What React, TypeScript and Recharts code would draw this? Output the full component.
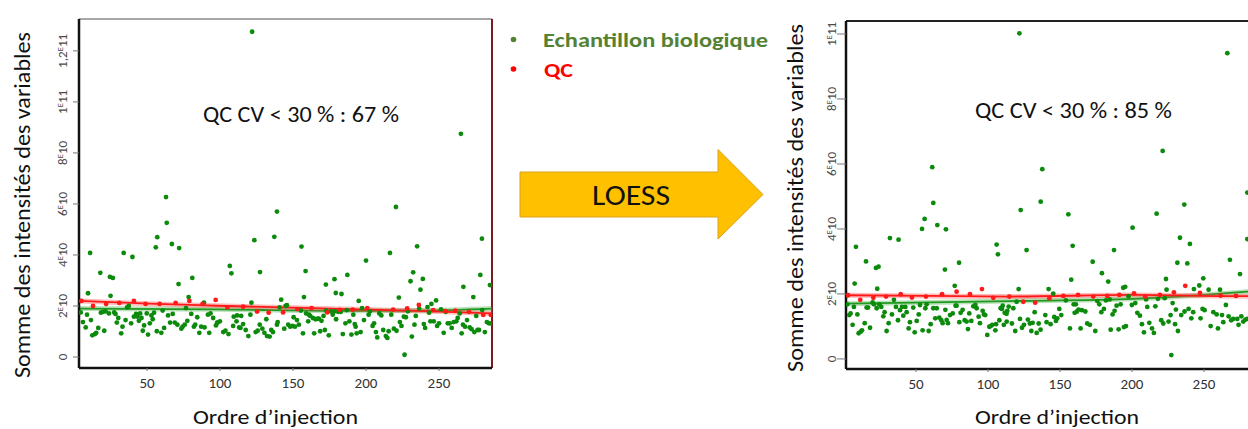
import { ComposedChart, Scatter, Line, XAxis, YAxis, ReferenceLine } from 'recharts';

const FONT = 'Carlito, Calibri, Lato, "Open Sans", sans-serif';

const xTicks = [50, 100, 150, 200, 250];
const leftYTicks = [0, 2, 4, 6, 8, 10, 12];
const leftYLabels = ['0', '2E10', '4E10', '6E10', '8E10', '1E11', '1,2E11'];
const rightYTicks = [0, 2, 4, 6, 8, 10];
const rightYLabels = ['0', '2E10', '4E10', '6E10', '8E10', '1E11'];

// [injection order, summed intensity in 1E10 units] - before correction
const leftBio: [number, number][] = [
  [122, 12.75], [265, 8.75], [63, 6.27], [63.5, 5.26], [139, 5.7], [220.5, 5.88],
  [57, 4.7], [56, 4.3], [67, 4.43], [72, 4.27], [11, 4.08], [34, 4.08], [40, 3.92], [18, 3.3],
  [24.6, 3.14], [26.6, 3.1], [81, 3.1], [71.6, 2.86], [9.6, 2.5], [25, 2.4], [78.5, 2.35],
  [137.2, 4.71], [123.5, 4.58], [155.8, 4.33], [106.7, 3.57], [107.8, 3.28], [127.4, 3.33],
  [158.6, 3.37], [172.5, 2.84], [178.4, 3.05], [187.2, 3.22], [179.3, 2.51], [183.2, 2.47],
  [157.5, 2.35], [141.9, 2.25], [121.5, 2.13],
  [279.4, 4.64], [235, 4.34], [200, 3.78], [216.4, 4.08], [278.3, 3.22], [232.3, 3.32],
  [230.5, 2.97], [238.9, 3.06], [237.3, 2.64], [266.7, 2.75], [273.5, 2.35], [284.9, 2.82],
  [222.5, 2.33], [248, 2.22], [244.8, 2.08], [242.1, 1.96], [195, 2.2], [226.4, 0.09],
  [4.6, 1.75], [6.1, 1.37], [8, 1.16], [8.9, 1.66], [11.6, 1.45], [12.5, 0.85], [14.3, 0.9],
  [15.2, 0.95], [16.6, 1.14], [18.4, 1.74], [19.8, 1.77], [20.7, 1.03], [21.6, 1.79], [23.9, 1.71],
  [27.5, 1.75], [28.4, 1.69], [29.3, 1.35], [30.3, 1.53], [32.3, 0.93], [33.2, 1.19], [35.3, 1.45],
  [36.4, 1.95], [37.5, 2.0], [39.1, 1.32], [41, 1.58], [42.5, 1.69], [43.5, 1.58], [44.4, 1.42],
  [45.3, 1.71], [46.2, 1.53], [47.1, 1.03], [48, 1.24], [49.8, 1.71], [50.7, 0.88], [51.9, 1.32],
  [53, 1.63], [53.9, 1.48], [54.8, 1.74], [56.7, 1.01], [59.8, 0.95], [60.7, 1.82], [61.7, 1.14],
  [64.4, 1.63], [65.8, 1.35], [67.6, 1.69], [69, 1.35], [70.8, 1.27], [73.5, 1.11], [74.4, 1.19],
  [75.8, 1.27], [76.7, 1.92], [77.6, 1.42], [80.3, 1.69], [82.1, 1.19], [83, 1.27], [84.4, 1.56],
  [85.8, 0.95], [87.1, 1.19], [89, 2.13], [89.4, 1.16], [91.7, 1.66], [92.6, 0.95], [93.5, 1.71],
  [95.3, 1.53], [97.2, 1.24], [98.1, 1.35],
  [98.3, 1.35], [99.9, 1.4], [102.2, 0.98], [103.7, 1.03], [105.8, 0.9], [109, 1.22], [109.4, 1.58],
  [111.3, 1.4], [111.7, 1.63], [113.1, 1.16], [114, 1.14], [114.5, 1.61], [115.8, 1.29], [117.6, 1.06],
  [119.4, 0.82], [120.8, 1.66], [124.4, 0.98], [125.8, 1.03], [127.2, 1.27], [129, 1.11], [130.4, 0.95],
  [131.7, 1.48], [132.2, 0.82], [134, 0.8], [135.1, 1.06], [136.3, 0.98], [139, 1.27], [139.5, 1.37],
  [140.8, 1.95], [144, 1.11], [144.9, 2.0], [145.8, 2.03], [146.7, 1.27], [148.1, 1.19], [149.5, 1.22],
  [150.4, 1.56], [151.3, 1.19], [152.7, 1.45], [154, 1.27], [155.4, 1.82], [156.8, 0.93], [159, 1.71],
  [160.4, 1.4], [160.9, 1.66], [161.8, 1.61], [163.6, 1.53], [164.5, 0.93], [165.4, 1.48], [166.8, 1.5],
  [167.7, 1.5], [168.6, 1.01], [169.5, 1.42], [170.9, 1.61], [171.8, 1.06], [172.7, 1.82], [174.5, 0.85],
  [175.9, 1.79], [177.2, 1.66], [178.6, 1.79], [179.5, 1.48], [180.9, 1.77], [182.7, 1.77], [184.1, 0.9],
  [185.9, 1.32], [186.8, 1.84], [188.6, 1.4], [190, 0.88], [191.3, 1.66], [192.3, 1.29],
  [192.9, 1.19], [193.6, 0.93], [196.3, 0.98], [197.3, 1.92], [198.6, 1.45], [201.8, 1.66], [202.7, 1.79],
  [204.5, 1.22], [205.5, 1.32], [206.8, 0.98], [207.7, 0.77], [209.1, 1.71], [210.5, 1.63], [211.8, 1.06],
  [213.6, 0.82], [214.6, 0.75], [215.5, 1.01], [217.3, 1.66], [219.1, 1.11], [220.9, 1.03], [223.2, 1.37],
  [224.3, 1.22], [225.9, 1.58], [227.3, 1.56], [228.7, 1.79], [231.4, 0.8], [233.2, 1.27], [234.1, 1.61],
  [236.4, 1.9], [239.6, 1.29], [240.5, 1.14], [243.2, 1.74], [244.1, 1.4], [246.4, 1.4], [248.7, 1.22],
  [250, 1.32], [251.4, 1.87], [253.2, 0.95], [254.6, 1.77], [256, 1.32], [257.3, 1.32], [258.7, 1.14],
  [260.1, 1.37], [261.9, 1.4], [262.8, 1.53], [264.2, 1.71], [265.5, 0.93], [266.4, 1.27], [267.8, 1.19],
  [269.2, 1.45], [271, 1.16], [272.3, 1.09], [274.2, 0.98], [275.5, 1.61], [276.4, 1.06], [277.4, 1.06],
  [279.6, 1.84], [281.4, 0.98], [282.8, 1.37], [284.2, 1.32], [285.5, 1.32],
];

const leftQc: [number, number][] = [
  [5, 2.2], [13, 2.0], [22, 2.08], [31, 2.12], [41, 2.2], [49, 2.08], [58.6, 2.08], [69.6, 2.12],
  [79, 2.2], [88, 2.08], [97, 2.24], [105.1, 1.95], [115.8, 1.97], [125.4, 1.78], [133.3, 1.74],
  [143.2, 1.75], [153, 1.88], [162.7, 1.92], [173.4, 1.75], [182, 1.85], [190.9, 1.86], [200.9, 1.92],
  [218.6, 1.86], [228.2, 1.91], [236.2, 2.04], [246, 1.84], [254.4, 1.8], [261.2, 1.82], [270.5, 1.77],
  [280.3, 1.65], [285.5, 1.65],
];

const leftBioLoess: [number, number][] = [[3.4, 1.9], [98, 1.87], [193, 1.81], [237, 1.82], [286.3, 1.9]];
const leftQcLoess: [number, number][] = [[3.4, 2.2], [51, 2.09], [98, 2.01], [193, 1.87], [240, 1.8], [286.3, 1.71]];

// after LOESS correction
const rightBio: [number, number][] = [
  [121.8, 10.02], [266.2, 9.41], [61.3, 5.9], [62, 4.8], [137.7, 5.84], [221.3, 6.4], [136.6, 4.84],
  [236.3, 4.75], [280.1, 5.12], [122.7, 4.58], [155.8, 4.45], [217.1, 4.47],
  [56, 4.31], [64.8, 4.12], [54.2, 4.0], [70.8, 3.99], [31.9, 3.72], [37.9, 3.67], [8.3, 3.45],
  [15.3, 3.0], [22.2, 2.8], [24, 2.84], [70.1, 2.75], [79.9, 2.96], [106, 3.52], [106.9, 3.22],
  [7.4, 2.32], [23.1, 2.16], [76.9, 2.25],
  [280.1, 3.69], [126.8, 3.35], [158.8, 3.48], [200.4, 4.04], [233.3, 3.73], [240.2, 3.54],
  [187.5, 3.35], [268, 3.05], [275, 2.61], [172.7, 2.99], [179.1, 2.64], [183.5, 2.38], [231.5, 2.96],
  [238.4, 2.94], [223.6, 2.46], [249.5, 2.48], [157.8, 2.44], [121.3, 2.15], [142.1, 2.15],
  [145.3, 2.01], [193.9, 2.19], [195.3, 2.22], [246.7, 2.26], [243, 2.15], [227.3, 0.12],
  [2.3, 1.68], [3.7, 1.35], [4.6, 1.4], [6, 1.05], [6.9, 1.6], [9.3, 1.37], [10.2, 0.79], [11.6, 0.84],
  [12.5, 0.88], [14.4, 1.1], [15.7, 1.58], [16.7, 1.58], [18.1, 0.96], [19.9, 1.74], [20.8, 1.68],
  [22.7, 1.56], [24.5, 1.68], [25.9, 1.6], [27.3, 1.31], [28.2, 1.44], [29.6, 0.86], [31, 1.1],
  [33.3, 1.37], [34.7, 1.82], [36.1, 1.6], [37.5, 1.19], [38.9, 1.5], [40.3, 1.6], [41.2, 1.33],
  [42.6, 1.6], [43.5, 1.44], [44.9, 0.94], [45.8, 1.13], [48.1, 1.58], [49.1, 0.82], [50.5, 1.17],
  [51.9, 1.37], [52.8, 1.66], [54.6, 0.88], [56.5, 1.56], [57.4, 1.68], [58.8, 0.86], [60.2, 1.07],
  [62, 1.56], [63.4, 1.25], [64.4, 1.56], [66.2, 1.27], [67.6, 1.19], [68.5, 1.1], [70.4, 1.51],
  [71.3, 1.2], [72.2, 1.1], [73.6, 1.35], [75.5, 1.4], [77.5, 1.64], [78.2, 1.64], [80.1, 1.13],
  [81, 1.42], [82.4, 1.51], [83.8, 1.19], [85.2, 1.15], [86.1, 0.92], [87, 1.4], [88.4, 1.17],
  [89.8, 1.62], [91.2, 1.66], [92.1, 1.56], [93.5, 1.3], [94.4, 1.1], [96.3, 1.48], [97.2, 1.37],
  [98.1, 1.35], [99.5, 0.74], [100.9, 0.99], [101.9, 1.01], [103, 1.05], [105.1, 0.88], [105.6, 1.07],
  [107.9, 1.19], [108.8, 1.56], [110.2, 1.64], [111.6, 1.42], [113, 1.15], [114.4, 1.61],
  [109.7, 1.54], [111, 1.05], [112.9, 1.39], [113.4, 1.48], [116.6, 1.09], [117.6, 1.56], [118.9, 0.86],
  [119.9, 1.76], [122.2, 1.23], [123.6, 0.96], [125, 1.05], [127.7, 1.21], [129.1, 1.09], [130.1, 0.86],
  [131, 1.11], [132.4, 1.44], [133.8, 0.8], [135.2, 1.09], [136.5, 0.9], [139.8, 1.35], [140.7, 1.13],
  [143.5, 1.07], [146, 1.29], [147.2, 1.17], [148.1, 1.25], [149.5, 1.54], [150.9, 1.35], [154.1, 1.8],
  [156.9, 0.94], [159.5, 1.68], [160.2, 1.42], [161, 1.68], [161.8, 1.46], [162.9, 1.52], [164.3, 0.94],
  [165.2, 1.5], [167.6, 1.46], [168.9, 1.09], [170.8, 1.05], [174.5, 0.86], [175.9, 1.78], [177.3, 1.68],
  [178.7, 1.44], [180.5, 1.54], [181.9, 1.8], [184.5, 1.83], [185.2, 0.9], [186.5, 1.37], [187.9, 1.48],
  [189.3, 1.64], [190.7, 0.91], [192.1, 1.68], [194.4, 0.98], [195.8, 1.01], [197.6, 1.93], [199.9, 1.66],
  [202.3, 1.72], [203.7, 1.42], [205.5, 1.33], [206.9, 1.07], [208.3, 0.82], [209.8, 1.83], [210.6, 1.6],
  [212, 1.11], [213.9, 0.94], [215.2, 0.8], [216.2, 1.62], [218, 1.85], [220.3, 1.19], [221.7, 1.09],
  [222.7, 1.87], [224, 2.13], [225.4, 1.15], [226.8, 1.35], [228.2, 1.72], [229.9, 1.07], [230.5, 1.52],
  [231.9, 0.86], [234.2, 1.35], [236.5, 1.46], [239.3, 1.54], [241.2, 1.25], [242.5, 1.44], [247.6, 1.25],
  [249, 1.54], [250.4, 1.5], [253.2, 2.13], [254.6, 1.01], [256.5, 1.44], [258.8, 1.37], [259.7, 0.94],
  [261.1, 2.13], [262.5, 1.35], [263.4, 1.13], [265.2, 1.66], [267.1, 1.31], [268.9, 1.19], [270.3, 1.23],
  [273.1, 1.23], [274, 1.05], [275.9, 1.31], [277.3, 1.15], [278.7, 1.21], [280.1, 1.23],
];

const rightQc: [number, number][] = [
  [2.8, 1.96], [11.3, 1.82], [20.4, 1.88], [29.2, 1.92], [39.4, 1.99], [47.2, 1.89], [56.9, 1.92],
  [68.1, 1.99], [78.2, 2.07], [87.5, 1.99], [95.8, 2.15], [103.7, 1.88], [114.8, 1.92], [124.5, 1.76],
  [132.8, 1.73], [142.6, 1.87], [152.3, 1.94], [162.5, 1.97], [173.1, 1.92], [182.8, 1.94], [191.2, 1.97],
  [201.4, 2.02], [209.2, 1.92], [219.4, 1.97], [229.1, 2.05], [237, 2.25], [247.2, 2.03], [261.5, 1.95],
  [272.2, 1.94],
];

const rightBioLoess: [number, number][] = [[1.4, 1.7], [60, 1.74], [115, 1.78], [201, 1.85], [250, 1.97], [280, 2.07], [290, 2.1]];
const rightQcLoess: [number, number][] = [[1.4, 1.96], [60, 1.94], [115, 1.92], [201, 1.97], [280, 1.93], [290, 1.93]];

const toPts = (a: [number, number][]) => a.map(([x, y]) => ({ x, y }));

const GREEN = '#0b8a0b';
const RED = '#ff1a1a';

const dot = (color: string) => (p: any) => <circle cx={p.cx} cy={p.cy} r={2.4} fill={color} />;

function makeYTick(ticks: number[], labels: string[], gap: number) {
  return (props: any) => {
    const { x, y, payload } = props;
    const label = labels[ticks.indexOf(payload.value)] ?? String(payload.value);
    const [mant, exp] = label.split('E');
    return (
      <text
        transform={`translate(${x - gap},${y}) rotate(-90)`}
        textAnchor="middle"
        fontSize={13}
        fill="#4a4a4a"
        fontFamily={FONT}
      >
        {mant}
        {exp !== undefined && (
          <>
            <tspan fontSize={9} dy={-4}>E</tspan>
            <tspan dy={4}>{exp}</tspan>
          </>
        )}
      </text>
    );
  };
}

type PanelProps = {
  left: number;
  width: number;
  margin: { top: number; right: number; bottom: number; left: number };
  yAxisWidth: number;
  xDomain: [number, number];
  yDomain: [number, number];
  yTicks: number[];
  yLabels: string[];
  tickSize: number;
  tickGap: number;
  bio: [number, number][];
  qc: [number, number][];
  bioLoess: [number, number][];
  qcLoess: [number, number][];
  topStroke: string;
  topWidth: number;
  rightStroke?: string;
};

function Panel(p: PanelProps) {
  return (
    <div style={{ position: 'absolute', left: p.left, top: 0 }}>
      <ComposedChart width={p.width} height={429} margin={p.margin}>
        <XAxis
          type="number"
          dataKey="x"
          domain={p.xDomain}
          allowDataOverflow
          ticks={xTicks}
          height={30}
          tickSize={3}
          tickMargin={6}
          axisLine={{ stroke: '#111', strokeWidth: 2.5 }}
          tickLine={{ stroke: '#777' }}
          tick={{ fill: '#333', fontSize: 15, fontFamily: FONT }}
        />
        <YAxis
          type="number"
          dataKey="y"
          domain={p.yDomain}
          allowDataOverflow
          ticks={p.yTicks}
          width={p.yAxisWidth}
          tickSize={p.tickSize}
          tickMargin={0}
          axisLine={{ stroke: '#111', strokeWidth: 2.5 }}
          tickLine={{ stroke: '#777' }}
          tick={makeYTick(p.yTicks, p.yLabels, p.tickGap)}
        />
        <ReferenceLine y={p.yDomain[1]} stroke={p.topStroke} strokeWidth={p.topWidth} />
        {p.rightStroke && <ReferenceLine x={p.xDomain[1]} stroke={p.rightStroke} strokeWidth={2} />}
        <Scatter data={toPts(p.bio)} dataKey="y" fill={GREEN} shape={dot(GREEN)} isAnimationActive={false} />
        <Scatter data={toPts(p.qc)} dataKey="y" fill={RED} shape={dot(RED)} isAnimationActive={false} />
        <Line data={toPts(p.bioLoess)} dataKey="y" type="monotone" stroke="#3aa83a" strokeOpacity={0.35} strokeWidth={5} dot={false} isAnimationActive={false} />
        <Line data={toPts(p.bioLoess)} dataKey="y" type="monotone" stroke="#1f9a1f" strokeWidth={1.8} dot={false} isAnimationActive={false} />
        <Line data={toPts(p.qcLoess)} dataKey="y" type="monotone" stroke="#ff4040" strokeOpacity={0.35} strokeWidth={5} dot={false} isAnimationActive={false} />
        <Line data={toPts(p.qcLoess)} dataKey="y" type="monotone" stroke={RED} strokeWidth={1.8} dot={false} isAnimationActive={false} />
      </ComposedChart>
    </div>
  );
}

export default function App() {
  return (
    <div
      style={{
        position: 'absolute',
        left: 0,
        top: 0,
        width: 1248,
        height: 429,
        overflow: 'hidden',
        background: '#fff',
        fontFamily: FONT,
      }}
    >
      <Panel
        left={0}
        width={500}
        margin={{ top: 19, right: 8, bottom: 31, left: 0 }}
        yAxisWidth={79}
        xDomain={[3.4, 286.3]}
        yDomain={[-0.43, 13.25]}
        yTicks={leftYTicks}
        yLabels={leftYLabels}
        tickSize={6}
        tickGap={6}
        bio={leftBio}
        qc={leftQc}
        bioLoess={leftBioLoess}
        qcLoess={leftQcLoess}
        topStroke="#8a8a8a"
        topWidth={1.5}
        rightStroke="#7a1c1c"
      />
      <Panel
        left={760}
        width={520}
        margin={{ top: 21, right: 18.4, bottom: 30, left: 0 }}
        yAxisWidth={86}
        xDomain={[1.4, 290]}
        yDomain={[-0.31, 10.4]}
        yTicks={rightYTicks}
        yLabels={rightYLabels}
        tickSize={9}
        tickGap={1}
        bio={rightBio}
        qc={rightQc}
        bioLoess={rightBioLoess}
        qcLoess={rightQcLoess}
        topStroke="#222"
        topWidth={2.2}
      />
      <svg width={1248} height={429} style={{ position: 'absolute', left: 0, top: 0, pointerEvents: 'none' }} fontFamily={FONT}>
        <text transform="translate(29.5,205) rotate(-90)" textAnchor="middle" fontSize={22} fill="#111" textLength={346} lengthAdjust="spacingAndGlyphs">
          Somme des intensités des variables
        </text>
        <text transform="translate(803,198) rotate(-90)" textAnchor="middle" fontSize={22} fill="#111" textLength={348} lengthAdjust="spacingAndGlyphs">
          Somme des intensités des variables
        </text>
        <text x={275.5} y={423.5} textAnchor="middle" fontSize={20} fill="#111" textLength={165} lengthAdjust="spacingAndGlyphs">
          Ordre d’injection
        </text>
        <text x={1057} y={423.5} textAnchor="middle" fontSize={20} fill="#111" textLength={164} lengthAdjust="spacingAndGlyphs">
          Ordre d’injection
        </text>
        <text x={203} y={121.5} fontSize={22} fill="#111" textLength={196} lengthAdjust="spacingAndGlyphs">
          QC CV {'<'} 30 % : 67 %
        </text>
        <text x={975} y={117.5} fontSize={22} fill="#111" textLength={197} lengthAdjust="spacingAndGlyphs">
          QC CV {'<'} 30 % : 85 %
        </text>

        <circle cx={513.5} cy={39.5} r={2.8} fill="#548235" />
        <text x={543} y={46.5} fontSize={21} fontWeight={700} fill="#548235" textLength={225} lengthAdjust="spacingAndGlyphs">
          Echantillon biologique
        </text>
        <circle cx={513.5} cy={69} r={2.8} fill="#ff0000" />
        <text x={544} y={77} fontSize={21} fontWeight={700} fill="#ff0000" textLength={29} lengthAdjust="spacingAndGlyphs">
          QC
        </text>

        <polygon
          points="520,172 718,172 718,149.5 763,194.5 718,239 718,217 520,217"
          fill="#ffc000"
          stroke="#d9a21b"
          strokeWidth={1}
        />
        <text x={631} y={205} textAnchor="middle" fontSize={28} fill="#111" textLength={78} lengthAdjust="spacingAndGlyphs">
          LOESS
        </text>
      </svg>
    </div>
  );
}
